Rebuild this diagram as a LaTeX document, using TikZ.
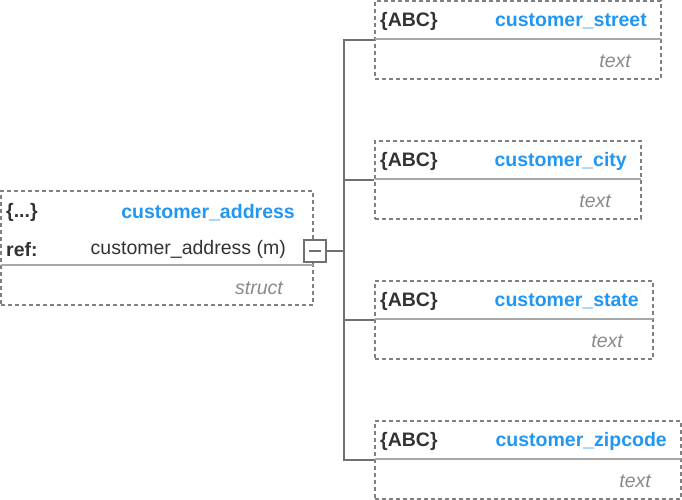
\documentclass[tikz,border=0pt]{standalone}
\usepackage{fontspec}
\setmainfont{Liberation Sans}
\definecolor{boxgray}{HTML}{808080}
\definecolor{sepgray}{HTML}{A8A8A8}
\definecolor{namblue}{HTML}{2196F3}
\definecolor{dark}{HTML}{333333}
\definecolor{typegray}{HTML}{8A8A8A}
\definecolor{linegray}{HTML}{707070}
\begin{document}
\begin{tikzpicture}[x=1pt,y=-1pt,
  boxstyle/.style={draw=boxgray, line width=1.5pt, dash pattern=on 4pt off 3pt, inner sep=0pt, rectangle},
  sepline/.style={draw=sepgray, line width=1.5pt},
  txt/.style={font=\fontsize{19.5}{19.5}\selectfont, inner sep=0pt, yshift=-1.5pt},
  tag/.style={txt, font=\fontsize{19.5}{19.5}\selectfont\bfseries, text=dark, anchor=west},
  nm/.style={txt, font=\fontsize{19.5}{19.5}\selectfont\bfseries, text=namblue, anchor=east},
  reftxt/.style={txt, text=dark, anchor=east},
  typ/.style={txt, font=\fontsize{19.5}{19.5}\selectfont\itshape, text=typegray, anchor=east},
  conn/.style={draw=linegray, line width=1.5pt},
  togglebox/.style={draw=linegray, line width=1.5pt, fill=white, minimum width=22pt, minimum height=22pt, inner sep=0pt}
]
\useasboundingbox (0,0) rectangle (682,500);
% parent box
\node[boxstyle, minimum width=312pt, minimum height=114pt] (parent) at (157,248) {};
\draw[sepline] (1,265) -- (313,265);
\node[tag] (ptag) at (6,211) {\{...\}};
\node[nm] (pname) at (295,211) {customer\_address};
\node[tag] (preflbl) at (6,248) {ref:};
\node[reftxt] (pref) at (286,248) {customer\_address (m)};
\node[typ] (ptype) at (283,287) {struct};
% toggle
\node[togglebox] (toggle) at (315,251) {};
\draw[conn] ([xshift=-6pt]toggle.center) -- ([xshift=6pt]toggle.center);
\coordinate (trunk) at (344,251);
% children
\node[boxstyle, minimum width=286pt, minimum height=78pt] (street) at (518,40) {};
\draw[sepline] (375,39) -- (661,39);
\node[tag] (stag) at (380,20) {\{ABC\}};
\node[nm] (sname) at (647,20) {customer\_street};
\node[typ] (stype) at (631,60) {text};

\node[boxstyle, minimum width=266pt, minimum height=78pt] (city) at (508,180) {};
\draw[sepline] (375,179) -- (641,179);
\node[tag] (ctag) at (380,160) {\{ABC\}};
\node[nm] (cname) at (627,160) {customer\_city};
\node[typ] (ctype) at (611,200) {text};

\node[boxstyle, minimum width=278pt, minimum height=78pt] (state) at (514,320) {};
\draw[sepline] (375,319) -- (653,319);
\node[tag] (sttag) at (380,300) {\{ABC\}};
\node[nm] (stname) at (639,300) {customer\_state};
\node[typ] (sttype) at (623,340) {text};

\node[boxstyle, minimum width=306pt, minimum height=78pt] (zip) at (528,460) {};
\draw[sepline] (375,459) -- (681,459);
\node[tag] (ztag) at (380,440) {\{ABC\}};
\node[nm] (zname) at (667,440) {customer\_zipcode};
\node[typ] (ztype) at (651,480) {text};
% connectors
\draw[conn] (toggle.east) -- (trunk);
\draw[conn] (trunk) |- (street.west);
\draw[conn] (trunk) |- (city.west);
\draw[conn] (trunk) |- (state.west);
\draw[conn] (trunk) |- (zip.west);
\end{tikzpicture}
\end{document}
